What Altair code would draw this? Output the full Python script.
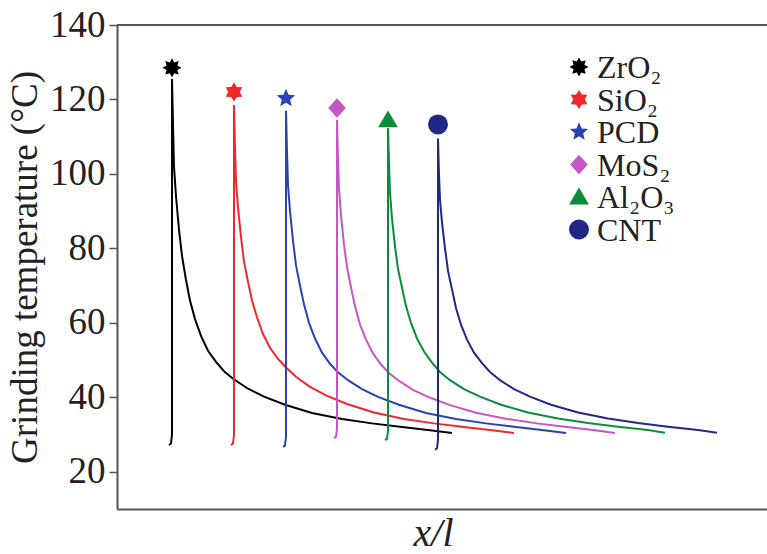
import math
import altair as alt
import pandas as pd

# Grinding temperature along the workpiece for six nanofluid additives.
materials = ["ZrO₂", "SiO₂", "PCD", "MoS₂", "Al₂O₃", "CNT"]
colors = ["#000000", "#f0282c", "#2a42b4", "#c656c6", "#0b8c3c", "#1f2885"]

zro2_x = [0.52, 0.54, 0.55, 0.55, 0.56, 0.57, 0.59, 0.62, 0.65, 0.69, 0.73, 0.78, 0.84,
          0.91, 0.99, 1.07, 1.17, 1.31, 1.47, 1.68, 1.95, 2.25, 2.55, 2.85, 3.15, 3.35]
zro2_t = [27.2, 27.6, 30.0, 125.5, 113.0, 102.0, 94.0, 85.0, 78.0, 71.5, 66.0, 61.0, 56.5,
          52.5, 49.5, 47.0, 44.8, 42.3, 40.2, 38.0, 35.8, 34.2, 33.0, 32.0, 31.1, 30.4]

sio2_x = [1.14, 1.16, 1.17, 1.17, 1.18, 1.19, 1.21, 1.24, 1.27, 1.31, 1.35, 1.40, 1.46,
          1.53, 1.61, 1.69, 1.79, 1.93, 2.09, 2.30, 2.57, 2.87, 3.17, 3.47, 3.77, 3.97]
sio2_t = [27.2, 27.6, 30.0, 118.5, 107.0, 98.0, 91.0, 83.0, 76.5, 71.0, 66.0, 61.5, 57.0,
          53.3, 50.3, 48.0, 45.5, 42.8, 40.5, 38.2, 35.9, 34.2, 33.0, 32.0, 31.1, 30.4]

pcd_x = [1.66, 1.68, 1.69, 1.69, 1.70, 1.71, 1.73, 1.76, 1.79, 1.83, 1.87, 1.92, 1.98,
         2.05, 2.13, 2.21, 2.31, 2.45, 2.61, 2.82, 3.09, 3.39, 3.69, 3.99, 4.29, 4.49]
pcd_t = [26.7, 27.1, 29.5, 117.0, 106.0, 97.0, 90.0, 82.0, 75.5, 70.0, 65.0, 60.0, 55.8,
         52.0, 49.0, 46.7, 44.6, 42.2, 40.1, 38.0, 35.8, 34.2, 33.0, 32.0, 31.1, 30.4]

mos2_x = [2.17, 2.19, 2.20, 2.20, 2.21, 2.22, 2.24, 2.27, 2.30, 2.34, 2.38, 2.43, 2.49,
          2.56, 2.64, 2.72, 2.82, 2.96, 3.12, 3.33, 3.60, 3.90, 4.20, 4.50, 4.80, 4.98]
mos2_t = [29.0, 29.4, 31.5, 114.5, 104.0, 96.0, 89.0, 81.0, 75.0, 69.5, 64.5, 59.5, 55.5,
          51.8, 48.8, 46.5, 44.4, 42.0, 40.0, 37.9, 35.8, 34.2, 33.0, 32.0, 31.1, 30.4]

al2o3_x = [2.68, 2.70, 2.71, 2.71, 2.72, 2.73, 2.75, 2.78, 2.81, 2.85, 2.89, 2.94, 3.00,
           3.07, 3.15, 3.23, 3.33, 3.47, 3.63, 3.84, 4.11, 4.41, 4.71, 5.01, 5.31, 5.48]
al2o3_t = [28.5, 28.9, 31.0, 112.3, 103.0, 95.0, 88.0, 80.5, 74.5, 69.5, 64.5, 60.0, 55.8,
           52.3, 49.3, 46.8, 44.6, 42.2, 40.2, 38.0, 35.9, 34.3, 33.1, 32.1, 31.2, 30.5]

cnt_x = [3.18, 3.20, 3.21, 3.21, 3.22, 3.23, 3.25, 3.28, 3.31, 3.35, 3.39, 3.44, 3.50,
         3.57, 3.65, 3.73, 3.83, 3.97, 4.13, 4.34, 4.61, 4.91, 5.21, 5.51, 5.81, 6.00]
cnt_t = [25.9, 26.3, 28.5, 109.5, 100.0, 93.0, 87.0, 80.0, 74.0, 69.0, 64.0, 59.5, 55.5,
         52.0, 49.2, 46.8, 44.6, 42.2, 40.2, 38.0, 35.9, 34.3, 33.1, 32.1, 31.2, 30.5]

# Peak temperature of each curve, shown with the material's symbol
peak_x = [0.55, 1.17, 1.69, 2.20, 2.71, 3.21]
peak_t = [128.5, 122.0, 120.3, 117.7, 114.5, 113.3]

y_ticks = [20, 40, 60, 80, 100, 120, 140]

series = [(zro2_x, zro2_t), (sio2_x, sio2_t), (pcd_x, pcd_t),
          (mos2_x, mos2_t), (al2o3_x, al2o3_t), (cnt_x, cnt_t)]

rows = []
for name, (xs, ts) in zip(materials, series):
    for i, (xv, tv) in enumerate(zip(xs, ts)):
        rows.append({"material": name, "x": xv, "t": tv, "i": i})
curves = pd.DataFrame(rows)
peaks = pd.DataFrame({"material": materials, "x": peak_x, "t": peak_t})
key = pd.DataFrame({"material": materials, "row": list(range(len(materials)))})


def star(points, inner):
    pts = []
    for k in range(points * 2):
        r = 1.0 if k % 2 == 0 else inner
        a = -math.pi / 2 + k * math.pi / points
        pts.append(f"{r * math.cos(a):.3f},{r * math.sin(a):.3f}")
    return "M" + "L".join(pts) + "Z"


shapes = [
    star(8, 0.62),
    star(6, 0.6),
    star(5, 0.45),
    "M0,-1L0.9,0L0,1L-0.9,0Z",
    "M0,-0.95L1,0.75L-1,0.75Z",
    "circle",
]
marker_sizes = [360, 400, 560, 330, 300, 165]
key_sizes = [300, 340, 480, 290, 260, 140]

serif = "Liberation Serif"
W, H = 650, 484

color_scale = alt.Scale(domain=materials, range=colors)
shape_scale = alt.Scale(domain=materials, range=shapes)

x_enc = alt.X("x:Q", scale=alt.Scale(domain=[0, 6.5], nice=False, zero=False),
              axis=alt.Axis(title="x/l", ticks=False, labels=False, grid=False,
                            titleFont=serif, titleFontStyle="italic", titleFontWeight="normal",
                            titleFontSize=40, titleColor="#222", titlePadding=4,
                            titleX=316, titleAnchor="start", titleAlign="center",
                            domainColor="#555", domainWidth=2))
y_enc = alt.Y("t:Q", scale=alt.Scale(domain=[10, 140], nice=False, zero=False),
              axis=alt.Axis(title="Grinding temperature (°C)", values=y_ticks, grid=False,
                            labelFont=serif, labelFontSize=37, labelColor="#222",
                            labelPadding=4, tickSize=8, tickColor="#555", tickWidth=1.5,
                            titleFont=serif, titleFontWeight="normal", titleFontSize=37,
                            titleColor="#222", titlePadding=5,
                            domainColor="#555", domainWidth=2))

lines = alt.Chart(curves).mark_line(strokeWidth=2).encode(
    x=x_enc, y=y_enc,
    stroke=alt.Stroke("material:N", scale=color_scale, legend=None),
    detail="material:N",
    order="i:Q",
)

markers = alt.Chart(peaks).mark_point(filled=True, opacity=1, strokeWidth=0).encode(
    x="x:Q", y="t:Q",
    color=alt.Color("material:N", scale=color_scale, legend=None),
    shape=alt.Shape("material:N", scale=shape_scale, legend=None),
    size=alt.Size("material:N", scale=alt.Scale(domain=materials, range=marker_sizes),
                  legend=None),
)

# Key in the upper right: one row per material, 32.5 px apart
key_base = alt.Chart(key).transform_calculate(ky="42 + datum.row * 32.5")
key_symbols = key_base.mark_point(filled=True, opacity=1, strokeWidth=0).encode(
    x=alt.value(462),
    y=alt.Y("ky:Q", scale=None),
    color=alt.Color("material:N", scale=color_scale, legend=None),
    shape=alt.Shape("material:N", scale=shape_scale, legend=None),
    size=alt.Size("material:N", scale=alt.Scale(domain=materials, range=key_sizes),
                  legend=None),
)
key_labels = key_base.mark_text(align="left", baseline="middle", font=serif,
                                fontSize=32, color="#222", dy=1).encode(
    x=alt.value(480),
    y=alt.Y("ky:Q", scale=None),
    text="material:N",
)

top_edge = alt.Chart(key).mark_rule(color="#555", strokeWidth=2).encode(
    x=alt.value(0), x2=alt.value(W), y=alt.value(0), y2=alt.value(0)
)

chart = alt.layer(lines, markers, key_symbols, key_labels, top_edge).properties(
    width=W, height=H,
    autosize=alt.AutoSizeParams(type="none"),
    padding={"left": 117, "top": 25, "right": 0, "bottom": 45},
).configure(
    background="white",
    view=alt.ViewConfig(stroke="transparent", strokeWidth=0),
)

chart.save("out.html", embed_options={"renderer": "svg", "actions": False})
